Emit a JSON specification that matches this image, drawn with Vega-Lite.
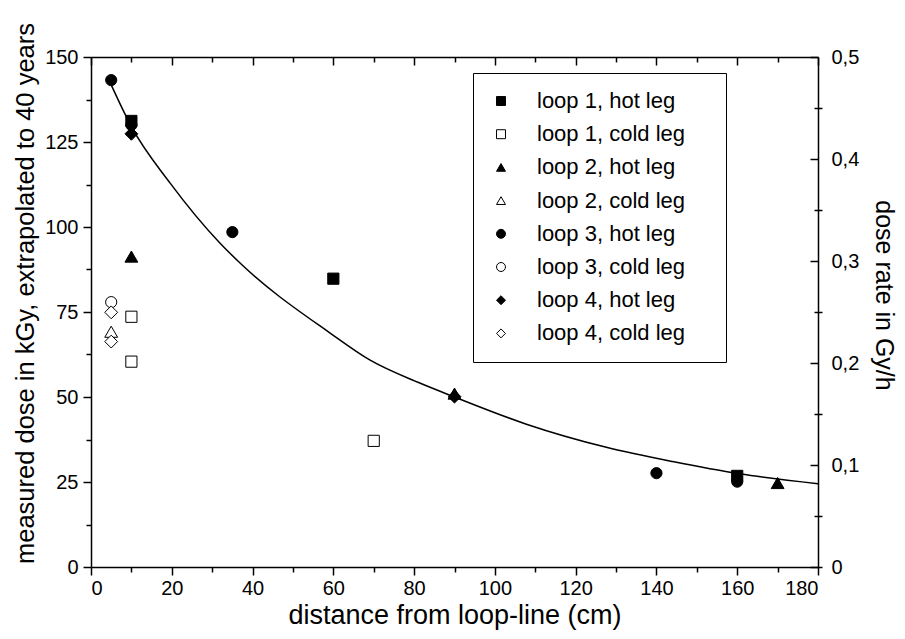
{
  "$schema": "https://vega.github.io/schema/vega-lite/v6.json",
  "width": 727,
  "height": 510,
  "autosize": "none",
  "padding": {"left": 91, "top": 57, "right": 87, "bottom": 72},
  "background": "white",
  "config": {
    "view": {"stroke": null},
    "font": "Liberation Sans",
    "axis": {
      "grid": false,
      "domainColor": "black",
      "domainWidth": 1.5,
      "tickColor": "black",
      "tickWidth": 1.5,
      "labelColor": "black",
      "titleColor": "black",
      "labelFontSize": 20,
      "titleFontSize": 25,
      "titleFontWeight": "normal",
      "labelFont": "Liberation Sans",
      "titleFont": "Liberation Sans"
    },
    "legend": {
      "orient": "none",
      "legendX": 382,
      "legendY": 16,
      "strokeColor": "black",
      "strokeWidth": 1,
      "fillColor": "white",
      "padding": 17,
      "labelFontSize": 22,
      "labelFont": "Liberation Sans",
      "labelColor": "black",
      "symbolSize": 80,
      "symbolStrokeWidth": 1,
      "rowPadding": 11.2,
      "labelOffset": 25,
      "symbolOffset": 0,
      "titleOrient": "right",
      "titlePadding": 24,
      "titleFontSize": 22
    }
  },
  "datasets": {
    "pts": [
      {"series": "loop 1, hot leg", "x": 10, "y": 131.2},
      {"series": "loop 1, hot leg", "x": 60, "y": 84.8},
      {"series": "loop 1, hot leg", "x": 160, "y": 26.8},
      {"series": "loop 1, cold leg", "x": 10, "y": 73.6},
      {"series": "loop 1, cold leg", "x": 10, "y": 60.4},
      {"series": "loop 1, cold leg", "x": 70, "y": 37.1},
      {"series": "loop 2, hot leg", "x": 10, "y": 91.3},
      {"series": "loop 2, hot leg", "x": 90, "y": 51},
      {"series": "loop 2, hot leg", "x": 170, "y": 24.7},
      {"series": "loop 2, cold leg", "x": 5, "y": 69.2},
      {"series": "loop 3, hot leg", "x": 5, "y": 143.2},
      {"series": "loop 3, hot leg", "x": 10, "y": 130},
      {"series": "loop 3, hot leg", "x": 35, "y": 98.5},
      {"series": "loop 3, hot leg", "x": 140, "y": 27.6},
      {"series": "loop 3, hot leg", "x": 160, "y": 25.1},
      {"series": "loop 3, cold leg", "x": 5, "y": 77.9},
      {"series": "loop 4, hot leg", "x": 10, "y": 127.4},
      {"series": "loop 4, hot leg", "x": 90, "y": 50.1},
      {"series": "loop 4, cold leg", "x": 5, "y": 74.9},
      {"series": "loop 4, cold leg", "x": 5, "y": 66.3}
    ],
    "curve": [
      {"x": 5, "y": 141.8},
      {"x": 10, "y": 129.5},
      {"x": 19.6, "y": 112.9},
      {"x": 31.9, "y": 95.3},
      {"x": 36.9, "y": 89.4},
      {"x": 59.2, "y": 68.8},
      {"x": 69, "y": 60.9},
      {"x": 81.4, "y": 54.1},
      {"x": 90, "y": 50},
      {"x": 107.8, "y": 42.0},
      {"x": 127.6, "y": 35.2},
      {"x": 144, "y": 31.0},
      {"x": 160.6, "y": 27.4},
      {"x": 180, "y": 24.5}
    ]
  },
  "layer": [
    {
      "data": {"name": "curve"},
      "mark": {"type": "line", "color": "black", "strokeWidth": 1.5, "interpolate": "monotone"},
      "encoding": {
        "x": {
          "field": "x", "type": "quantitative",
          "scale": {"domain": [0, 180], "nice": false},
          "axis": {
            "orient": "top", "title": null, "labels": false,
            "values": [0, 10, 20, 30, 40, 50, 60, 70, 80, 90, 100, 110, 120, 130, 140, 150, 160, 170, 180],
            "tickSize": {"condition": {"test": "datum.value % 20 === 0", "value": -8}, "value": -5}
          }
        },
        "y": {
          "field": "y", "type": "quantitative",
          "scale": {"domain": [0, 150], "nice": false},
          "axis": {
            "orient": "right",
            "title": "dose rate in Gy/h",
            "titlePadding": 12,
            "titleY": 238,
            "values": [0, 15, 30, 45, 60, 75, 90, 105, 120, 135, 150],
            "labelPadding": 21,
            "labelExpr": "datum.value % 30 === 0 ? (datum.value === 0 ? '0' : replace(format(datum.value / 300, '.1f'), '.', ',')) : ''",
            "tickSize": {"condition": {"test": "datum.value % 30 === 0", "value": -8}, "value": -4}
          }
        }
      }
    },
    {
      "data": {"name": "curve"},
      "mark": {"type": "point", "opacity": 0},
      "encoding": {
        "x": {"field": "x", "type": "quantitative", "axis": null},
        "y": {
          "field": "y", "type": "quantitative",
          "axis": {
            "orient": "right", "title": null, "labels": false, "domain": false,
            "values": [0, 15, 45, 75, 105, 135],
            "tickSize": 4
          }
        }
      }
    },
    {
      "data": {"name": "pts"},
      "transform": [{"filter": {"field": "series", "oneOf": ["loop 1, hot leg", "loop 1, cold leg", "loop 3, hot leg", "loop 3, cold leg"]}}],
      "mark": {"type": "point", "filled": false, "strokeWidth": 1, "opacity": 1, "size": 125},
      "encoding": {
        "x": {
          "field": "x", "type": "quantitative",
          "axis": {
            "orient": "bottom",
            "title": "distance from loop-line (cm)",
            "titleFontSize": 27,
            "titlePadding": 4,
            "values": [0, 10, 20, 30, 40, 50, 60, 70, 80, 90, 100, 110, 120, 130, 140, 150, 160, 170, 180],
            "labelExpr": "datum.value % 20 === 0 ? datum.label : ''",
            "labelPadding": 3,
            "tickSize": {"condition": {"test": "datum.value % 20 === 0", "value": 8}, "value": 5}
          }
        },
        "y": {
          "field": "y", "type": "quantitative",
          "axis": {
            "orient": "left",
            "title": "measured dose in kGy, extrapolated to 40 years",
            "titleFontSize": 25.5,
            "titlePadding": 6,
            "titleY": 236,
            "values": [0, 12.5, 25, 37.5, 50, 62.5, 75, 87.5, 100, 112.5, 125, 137.5, 150],
            "labelExpr": "datum.value % 25 === 0 ? datum.label : ''",
            "labelPadding": 5,
            "tickSize": {"condition": {"test": "datum.value % 25 === 0", "value": 8}, "value": 5}
          }
        },
        "shape": {
          "field": "series", "type": "nominal",
          "scale": {
            "domain": ["loop 1, hot leg", "loop 1, cold leg", "loop 2, hot leg", "loop 2, cold leg", "loop 3, hot leg", "loop 3, cold leg", "loop 4, hot leg", "loop 4, cold leg"],
            "range": ["square", "square", "triangle-up", "triangle-up", "circle", "circle", "diamond", "diamond"]
          },
          "legend": {"title": " "}
        },
        "fill": {
          "field": "series", "type": "nominal",
          "scale": {
            "domain": ["loop 1, hot leg", "loop 1, cold leg", "loop 2, hot leg", "loop 2, cold leg", "loop 3, hot leg", "loop 3, cold leg", "loop 4, hot leg", "loop 4, cold leg"],
            "range": ["black", "white", "black", "white", "black", "white", "black", "white"]
          },
          "legend": {"title": " "}
        },
        "stroke": {
          "field": "series", "type": "nominal",
          "scale": {
            "domain": ["loop 1, hot leg", "loop 1, cold leg", "loop 2, hot leg", "loop 2, cold leg", "loop 3, hot leg", "loop 3, cold leg", "loop 4, hot leg", "loop 4, cold leg"],
            "range": ["black", "black", "black", "black", "black", "black", "black", "black"]
          },
          "legend": {"title": " "}
        }
      }
    },
    {
      "data": {"name": "pts"},
      "transform": [{"filter": {"field": "series", "oneOf": ["loop 2, hot leg", "loop 2, cold leg", "loop 4, hot leg", "loop 4, cold leg"]}}],
      "mark": {"type": "point", "filled": false, "strokeWidth": 1, "opacity": 1, "size": 165},
      "encoding": {
        "x": {"field": "x", "type": "quantitative", "axis": null},
        "y": {"field": "y", "type": "quantitative", "axis": null},
        "shape": {"field": "series", "type": "nominal", "legend": {"title": " "}},
        "fill": {"field": "series", "type": "nominal", "legend": {"title": " "}},
        "stroke": {"field": "series", "type": "nominal", "legend": {"title": " "}}
      }
    }
  ],
  "resolve": {"axis": {"x": "independent", "y": "independent"}}
}
